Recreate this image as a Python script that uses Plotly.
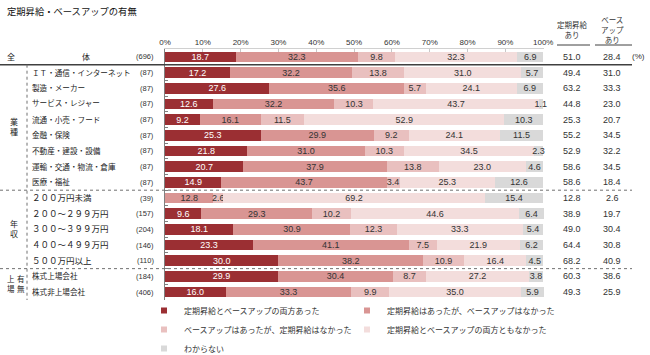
import plotly.graph_objects as go

# ---------------- data ----------------
categories = [
    "全体",
    "ＩＴ・通信・インターネット", "製造・メーカー", "サービス・レジャー", "流通・小売・フード",
    "金融・保険", "不動産・建設・設備", "運輸・交通・物流・倉庫", "医療・福祉",
    "２００万円未満", "２００～２９９万円", "３００～３９９万円", "４００～４９９万円", "５００万円以上",
    "株式上場会社", "株式非上場会社",
]
sample_sizes = [696, 87, 87, 87, 87, 87, 87, 87, 87, 39, 157, 204, 146, 110, 184, 406]

both_yes      = [18.7, 17.2, 27.6, 12.6, 9.2, 25.3, 21.8, 20.7, 14.9, 0.0, 9.6, 18.1, 23.3, 30.0, 29.9, 16.0]
periodic_only = [32.3, 32.2, 35.6, 32.2, 16.1, 29.9, 31.0, 37.9, 43.7, 12.8, 29.3, 30.9, 41.1, 38.2, 30.4, 33.3]
baseup_only   = [9.8, 13.8, 5.7, 10.3, 11.5, 9.2, 10.3, 13.8, 3.4, 2.6, 10.2, 12.3, 7.5, 10.9, 8.7, 9.9]
neither       = [32.3, 31.0, 24.1, 43.7, 52.9, 24.1, 34.5, 23.0, 25.3, 69.2, 44.6, 33.3, 21.9, 16.4, 27.2, 35.0]
unknown       = [6.9, 5.7, 6.9, 1.1, 10.3, 11.5, 2.3, 4.6, 12.6, 15.4, 6.4, 5.4, 6.2, 4.5, 3.8, 5.9]

periodic_total = [51.0, 49.4, 63.2, 44.8, 25.3, 55.2, 52.9, 58.6, 58.6, 12.8, 38.9, 49.0, 64.4, 68.2, 60.3, 49.3]
baseup_total   = [28.4, 31.0, 33.3, 23.0, 20.7, 34.5, 32.2, 34.5, 18.4, 2.6, 19.7, 30.4, 30.8, 40.9, 38.6, 25.9]

series_names = [
    "定期昇給とベースアップの両方あった",
    "定期昇給はあったが、ベースアップはなかった",
    "ベースアップはあったが、定期昇給はなかった",
    "定期昇給とベースアップの両方ともなかった",
    "わからない",
]
x_ticks = [0, 10, 20, 30, 40, 50, 60, 70, 80, 90, 100]
x_tick_labels = ["0%", "10%", "20%", "30%", "40%", "50%", "60%", "70%", "80%", "90%", "100%"]
col_headers = ["定期昇給<br>あり", "ベース<br>アップ<br>あり"]

# groups: (label lines, first row, last row)
groups = [(["業", "種"], 1, 8), (["年", "収"], 9, 13)]

# ---------------- style ----------------
colors = ["#9B2F33", "#D99593", "#E9C0BF", "#F3DDDC", "#D9D9D9"]
text_colors = ["#FFFFFF", "#333333", "#333333", "#333333", "#333333"]
legend_ids = ["legend", "legend2", "legend", "legend2", "legend"]
FONT = "Liberation Sans, Arial, Noto Sans CJK JP, sans-serif"
W, H = 650, 355
L, R, T, B = 165, 106, 49, 55
PW, PH = W - L - R, H - T - B
XMAX = 100.2


def px(x):
    return (x - L) / PW


def py(y):
    return 1 - (y - T) / PH


fig = go.Figure()
all_series = [both_yes, periodic_only, baseup_only, neither, unknown]
for vals, name, col, tcol, lg in zip(all_series, series_names, colors, text_colors, legend_ids):
    fig.add_trace(go.Bar(
        y=categories, x=vals, orientation="h", name=name,
        marker=dict(color=col, line=dict(width=0)),
        width=0.68,
        text=[f"{v:.1f}" if v > 0 else "" for v in vals],
        textposition="inside", insidetextanchor="middle", textangle=0,
        constraintext="none", cliponaxis=False,
        textfont=dict(size=9, color=tcol, family=FONT),
        showlegend=False, hoverinfo="skip",
    ))
    # legend proxy with small square marker
    fig.add_trace(go.Scatter(
        x=[None], y=[None], mode="markers", name=name, legend=lg,
        marker=dict(symbol="square", size=6, color=col),
        showlegend=True, hoverinfo="skip",
    ))

ann = []
# category labels + counts
for i, (cat, n) in enumerate(zip(categories, sample_sizes)):
    lab_font = dict(size=8.5 if 9 <= i <= 13 else 7.6, color="#222", family=FONT)
    if i == 0:
        ann.append(dict(x=px(11), y=cat, text="全", xanchor="center", font=dict(size=8, color="#222", family=FONT)))
        ann.append(dict(x=px(86), y=cat, text="体", xanchor="center", font=dict(size=8, color="#222", family=FONT)))
    else:
        ann.append(dict(x=px(30), y=cat, text=cat, xanchor="left", font=lab_font))
    ann.append(dict(x=px(156), y=cat, text=f"({n})", xanchor="right", font=dict(size=7.5, color="#333", family=FONT)))
    ann.append(dict(x=px(572), y=cat, text=f"{periodic_total[i]:.1f}", xanchor="center", font=dict(size=9, color="#333", family=FONT)))
    ann.append(dict(x=px(612), y=cat, text=f"{baseup_total[i]:.1f}", xanchor="center", font=dict(size=9, color="#333", family=FONT)))
ann.append(dict(x=px(638), y=categories[0], text="(%)", xanchor="center", font=dict(size=8, color="#333", family=FONT)))

# group labels
for chars, a, b in groups:
    ann.append(dict(x=px(14), y=(a + b) / 2, text="<br>".join(chars), xanchor="center",
                    font=dict(size=8, color="#222", family=FONT)))
ann.append(dict(x=px(11), y=14.5, text="上<br>場", xanchor="center", font=dict(size=7.5, color="#222", family=FONT)))
ann.append(dict(x=px(21), y=14.5, text="有<br>無", xanchor="center", font=dict(size=7.5, color="#222", family=FONT)))

for a in ann:
    a.update(xref="paper", yref="y", showarrow=False, yanchor="middle")

# column headers
for xc, txt in zip([572, 612], col_headers):
    ann.append(dict(x=px(xc), y=py(30), xref="paper", yref="paper", text=txt, showarrow=False,
                    xanchor="center", yanchor="middle", font=dict(size=7.5, color="#333", family=FONT)))

shapes = [
    dict(type="line", xref="paper", yref="y", x0=px(0), x1=px(632), y0=0.5, y1=0.5,
         line=dict(color="#404040", width=1.5)),
    dict(type="line", xref="paper", yref="y", x0=px(0), x1=px(632), y0=8.5, y1=8.5,
         line=dict(color="#707070", width=1, dash="dot")),
    dict(type="line", xref="paper", yref="y", x0=px(0), x1=px(632), y0=13.5, y1=13.5,
         line=dict(color="#707070", width=1, dash="dot")),
    dict(type="line", xref="paper", yref="y", x0=px(27), x1=px(27), y0=0.5, y1=15.5,
         line=dict(color="#707070", width=1, dash="dot")),
    dict(type="line", xref="paper", yref="paper", x0=px(557), x1=px(590), y0=py(45), y1=py(45),
         line=dict(color="#404040", width=1)),
    dict(type="line", xref="paper", yref="paper", x0=px(595), x1=px(632), y0=py(45), y1=py(45),
         line=dict(color="#404040", width=1)),
]

legend_common = dict(orientation="v", yanchor="top", y=py(296), traceorder="normal", itemwidth=30,
                     font=dict(size=8, color="#333", family=FONT), bgcolor="rgba(0,0,0,0)",
                     tracegroupgap=0)

fig.update_layout(
    width=W, height=H,
    margin=dict(l=L, r=R, t=T, b=B, autoexpand=False),
    paper_bgcolor="white", plot_bgcolor="white",
    barmode="stack", bargap=0.32,
    font=dict(family=FONT, size=9, color="#333"),
    title=dict(text="定期昇給・ベースアップの有無", x=7 / W, y=1 - 12 / H, xref="container", yref="container",
               xanchor="left", yanchor="middle", font=dict(size=9.3, color="#111", family=FONT)),
    xaxis=dict(side="top", range=[0, XMAX], tickvals=x_ticks, ticktext=x_tick_labels,
               showgrid=False, zeroline=False, showline=True, linecolor="#D0D0D0", linewidth=1,
               ticks="inside", ticklen=3, tickcolor="#C8C8C8",
               tickfont=dict(size=8, color="#333", family=FONT), fixedrange=True),
    yaxis=dict(type="category", categoryorder="array", categoryarray=categories,
               range=[15.5, -0.5], showticklabels=False, showgrid=False, zeroline=False,
               showline=True, linecolor="#808080", linewidth=1,
               ticks="inside", tickson="boundaries", ticklen=3, tickcolor="#808080", fixedrange=True),
    legend=dict(x=px(144), xanchor="left", **legend_common),
    legend2=dict(x=px(347), xanchor="left", **legend_common),
    annotations=ann,
    shapes=shapes,
    showlegend=True,
)

fig.write_html("out.html", config={"displayModeBar": False},
               post_script="document.body.style.margin='0';document.body.style.padding='0';")
